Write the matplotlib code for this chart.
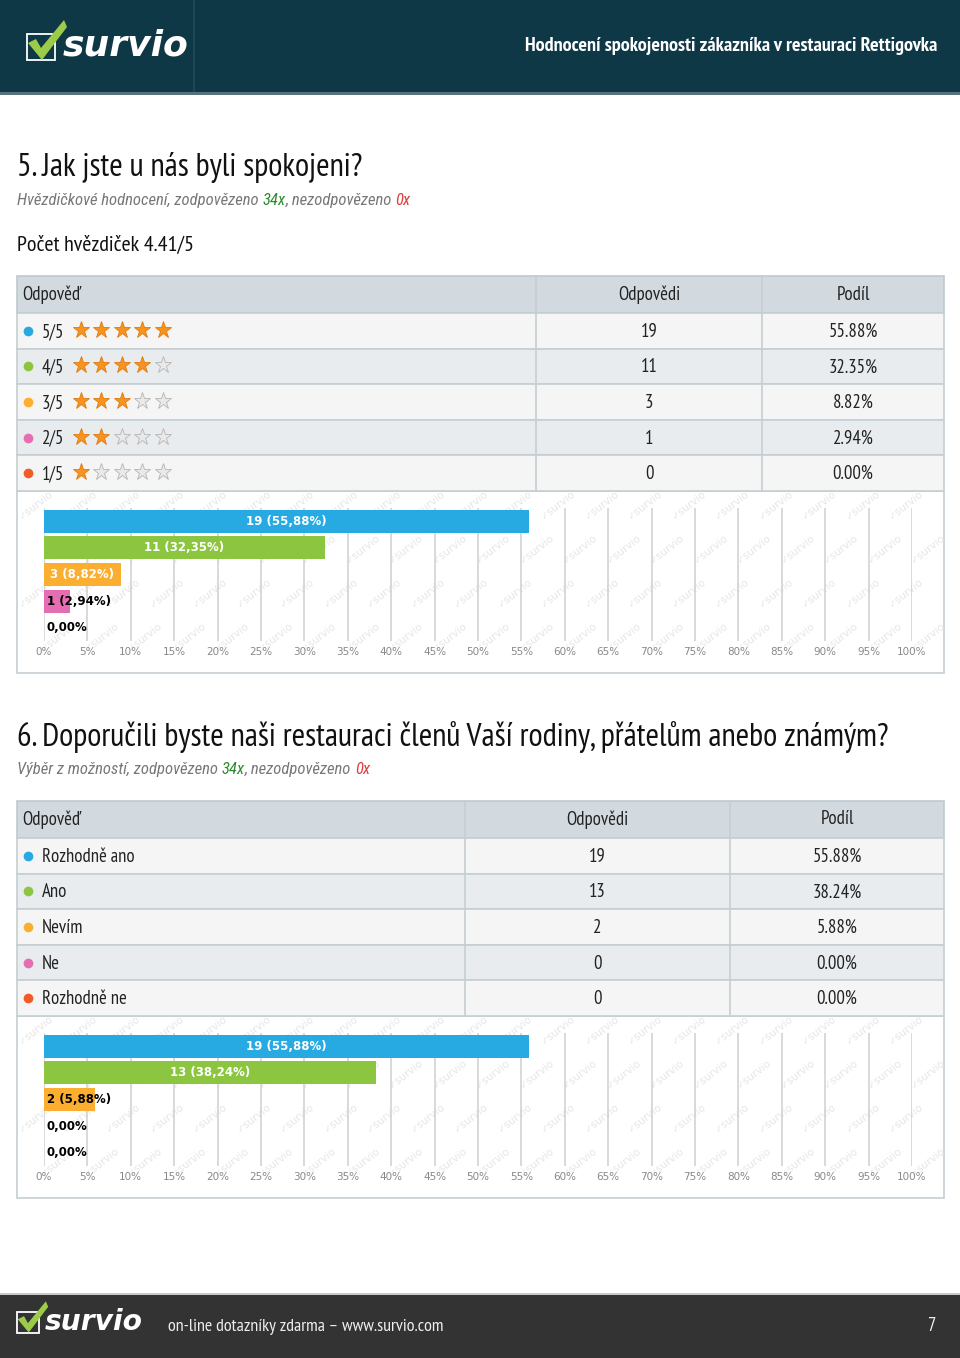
import matplotlib
matplotlib.use('Agg')
import matplotlib.pyplot as plt
from matplotlib import font_manager as fm
from matplotlib.patches import Rectangle, Polygon

# fonts: pick a narrow family if present, DejaVu as fallback
_names = {f.name for f in fm.fontManager.ttflist}


def pick(*cands):
    for c in cands:
        if c in _names:
            return [c, 'DejaVu Sans']
    return ['DejaVu Sans']


NARROW = pick('PT Sans Narrow', 'Roboto Condensed', 'Liberation Sans Narrow')
ITAL = pick('Roboto Condensed', 'PT Sans Narrow', 'Liberation Sans Narrow')
plt.rcParams['font.family'] = ['DejaVu Sans']

# ---- data ----
q5_labels = ['5/5', '4/5', '3/5', '2/5', '1/5']
q5_stars = [5, 4, 3, 2, 1]
q5_counts = [19, 11, 3, 1, 0]
q5_share = [55.88, 32.35, 8.82, 2.94, 0.00]

q6_labels = ['Rozhodně ano', 'Ano', 'Nevím', 'Ne', 'Rozhodně ne']
q6_counts = [19, 13, 2, 0, 0]
q6_share = [55.88, 38.24, 5.88, 0.00, 0.00]

colors = ['#27a9e1', '#8cc540', '#fbae2f', '#e56db1', '#f15b27']
x_ticks = list(range(0, 101, 5))

W, H = 960, 1358
fig = plt.figure(figsize=(9.6, 13.58), dpi=100)
ax = fig.add_axes([0, 0, 1, 1])
ax.set_xlim(0, W)
ax.set_ylim(H, 0)
ax.axis('off')


def logo(x, y, s):
    # checkbox + green tick + wordmark, (x, y) = top-left of box
    ax.add_patch(Rectangle((x, y + 8 * s), 28 * s, 26 * s, fill=False,
                           ec='white', lw=1.3, zorder=3))
    ax.add_patch(Polygon([(x + 1 * s, y + 17 * s), (x + 9 * s, y + 13 * s),
                          (x + 14 * s, y + 22 * s), (x + 37 * s, y - 6 * s),
                          (x + 40 * s, y + 1 * s), (x + 15 * s, y + 34 * s)],
                         closed=True, fc='#9ccb4a', ec='none', zorder=4))
    ax.text(x + 36 * s, y + 20 * s, 'survio', color='white', fontsize=26 * s,
            fontweight='bold', fontstyle='italic', va='center', ha='left',
            zorder=4)


# ---- header ----
ax.add_patch(Rectangle((0, 0), W, 93, fc='#0f3847', ec='none'))
ax.add_patch(Rectangle((193, 0), 1.5, 93, fc='#1c4757', ec='none'))
ax.add_patch(Rectangle((0, 92), W, 2.5, fc='#56727e', ec='none'))
logo(27, 26, 1.0)
ax.text(937, 46, 'Hodnocení spokojenosti zákazníka v restauraci Rettigovka',
        color='white', fontsize=14.5, fontweight='bold', family=NARROW,
        ha='right', va='center')

# ---- footer ----
ax.add_patch(Rectangle((0, 1293), W, 2, fc='#c8c8c8', ec='none'))
ax.add_patch(Rectangle((0, 1295), W, H - 1295, fc='#333333', ec='none'))
logo(17, 1306, 0.78)
ax.text(168, 1327, 'on-line dotazníky zdarma – www.survio.com', color='#eeeeee',
        fontsize=13, family=NARROW, ha='left', va='center')
ax.text(936, 1326, '7', color='#eeeeee', fontsize=13.5, family=NARROW,
        ha='right', va='center')


def subtitle(x, y, parts):
    t = ax.text(x, y, parts[0][0], color=parts[0][1], fontsize=12,
                family=ITAL, fontstyle='italic', ha='left', va='center')
    for txt, col in parts[1:]:
        t = ax.annotate(txt, xy=(1, 0), xycoords=t, color=col, fontsize=12,
                        family=ITAL, fontstyle='italic', ha='left',
                        va='bottom')


def watermark(y0, y1):
    row = 0
    yy = y0 + 14
    while yy < y1 - 10:
        xx = 36 + (row % 2) * 22
        while xx < 930:
            ax.text(xx, yy, '✓survio', color='#e6e6e6', fontsize=7.5,
                    rotation=38, ha='center', va='center', zorder=1)
            xx += 43.5
        yy += 44
        row += 1


def table(top, col1, col2, labels, counts, shares, stars=None):
    left, right = 17, 944
    hh, rh = 37, 35.6
    # header
    ax.add_patch(Rectangle((left, top), right - left, hh, fc='#d3dadf',
                           ec='#bfc9ce', lw=1.2, zorder=2))
    ax.text(22, top + hh / 2, 'Odpověď', fontsize=13.5, family=NARROW,
            color='#222222', va='center', ha='left', zorder=3)
    ax.text((col1 + col2) / 2, top + hh / 2, 'Odpovědi', fontsize=13.5,
            family=NARROW, color='#222222', va='center', ha='center', zorder=3)
    ax.text((col2 + right) / 2, top + hh / 2, 'Podíl', fontsize=13.5,
            family=NARROW, color='#222222', va='center', ha='center', zorder=3)
    for i, lab in enumerate(labels):
        y = top + hh + i * rh
        fc = '#f5f5f5' if i % 2 == 0 else '#e8ecee'
        ax.add_patch(Rectangle((left, y), right - left, rh, fc=fc,
                               ec='#c5ced3', lw=1.2, zorder=2))
        cy = y + rh / 2
        ax.plot(28, cy, 'o', ms=7, color=colors[i], mec='none', zorder=3)
        ax.text(42, cy + 1, lab, fontsize=13.5, family=NARROW, color='#222222',
                va='center', ha='left', zorder=3)
        if stars is not None:
            for k in range(5):
                full = k < stars[i]
                ax.plot(81 + k * 20.4, cy - 1, marker='*', ms=12.5,
                        color='#f7931e' if full else '#e9e9e9',
                        mec='#e07a10' if full else '#b5b5b5', mew=0.6,
                        zorder=3)
        ax.text((col1 + col2) / 2, cy + 1, str(counts[i]), fontsize=13.5,
                family=NARROW, color='#222222', va='center', ha='center',
                zorder=3)
        ax.text((col2 + right) / 2, cy + 1, f'{shares[i]:.2f}%', fontsize=13.5,
                family=NARROW, color='#222222', va='center', ha='center',
                zorder=3)
    bottom = top + hh + len(labels) * rh
    for cx in (col1, col2):
        ax.plot([cx, cx], [top, bottom], color='#c5ced3', lw=1.2, zorder=3)
    return bottom


def chart(box_top, box_bot, ax_top, ax_bot, counts, shares):
    ax.add_patch(Rectangle((17, box_top), 927, box_bot - box_top, fc='white',
                           ec='#c5ced3', lw=1.2, zorder=0.5))
    watermark(box_top, box_bot)
    x0, x1 = 44, 912
    cax = fig.add_axes([x0 / W, 1 - ax_bot / H, (x1 - x0) / W,
                        (ax_bot - ax_top) / H])
    cax.patch.set_alpha(0)
    n = len(counts)
    ypos = list(range(n))
    cax.barh(ypos, shares, height=0.86, color=colors, zorder=3)
    cax.set_xlim(0, 100)
    cax.set_ylim(n - 0.5, -0.5)
    cax.set_xticks(x_ticks)
    cax.set_xticklabels([f'{t}%' for t in x_ticks], color='#888888',
                        fontsize=7.5)
    cax.set_yticks([])
    cax.tick_params(axis='x', length=0, pad=4)
    cax.grid(axis='x', color='#cfcfcf', lw=1.1, zorder=0)
    cax.set_axisbelow(True)
    for s in cax.spines.values():
        s.set_visible(False)
    for i, (c, p) in enumerate(zip(counts, shares)):
        pct = f'{p:.2f}'.replace('.', ',')
        if c == 0:
            cax.text(0.3, i, '0,00%', fontsize=8.5, fontweight='bold',
                     color='black', ha='left', va='center', zorder=4)
        elif p >= 7:
            cax.text(p / 2, i, f'{c} ({pct}%)', fontsize=8.5, fontweight='bold',
                     color='white', ha='center', va='center', zorder=4)
        else:
            cax.text(0.3, i, f'{c} ({pct}%)', fontsize=8.5, fontweight='bold',
                     color='black', ha='left', va='center', zorder=4)


# ---- question 5 ----
ax.text(17, 167, '5. Jak jste u nás byli spokojeni?', fontsize=23.3,
        family=NARROW, color='#111111', ha='left', va='center')
subtitle(17, 200, [('Hvězdičkové hodnocení, zodpovězeno ', '#777777'),
                   ('34x', '#2e8b2e'), (', nezodpovězeno ', '#777777'),
                   ('0x', '#e03c3c')])
ax.text(17, 245, 'Počet hvězdiček 4.41/5', fontsize=15.8, family=NARROW,
        color='#111111', ha='left', va='center')
b = table(276, 536, 762, q5_labels, q5_counts, q5_share, stars=q5_stars)
chart(b, 673, 508, 641, q5_counts, q5_share)

# ---- question 6 ----
ax.text(17, 737, '6. Doporučili byste naši restauraci členů Vaší rodiny, '
        'přátelům anebo známým?', fontsize=23.3, family=NARROW,
        color='#111111', ha='left', va='center')
subtitle(17, 769, [('Výběr z možností, zodpovězeno ', '#777777'),
                   ('34x', '#2e8b2e'), (', nezodpovězeno ', '#777777'),
                   ('0x', '#e03c3c')])
b = table(801, 465, 730, q6_labels, q6_counts, q6_share)
chart(b, 1198, 1033, 1166, q6_counts, q6_share)

fig.savefig('out.png', dpi=100)
